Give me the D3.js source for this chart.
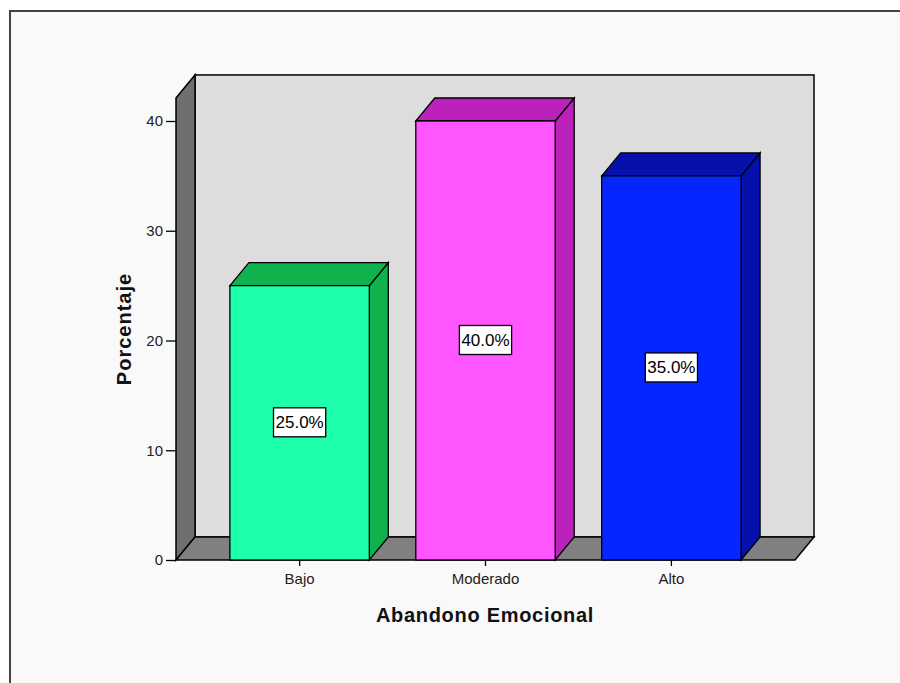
<!DOCTYPE html>
<html>
<head>
<meta charset="utf-8">
<script src="https://cdn.jsdelivr.net/npm/d3@7"></script>
<style>
  html, body { margin: 0; padding: 0; background: #ffffff; }
  svg { display: block; }
</style>
</head>
<body>
<svg id="chart" width="900" height="683"></svg>
<script>
// Porcentaje por nivel de abandono emocional
const categories = ["Bajo", "Moderado", "Alto"];
const values = [25.0, 40.0, 35.0];
const yTicks = [0, 10, 20, 30, 40];
const frontColors = ["#1effac", "#ff55ff", "#0626ff"];
const depthColors = ["#10b24e", "#bb22bb", "#0610aa"];

const FONT = "Arial, 'Liberation Sans', sans-serif";
const svg = d3.select("#chart");

// outer frame
svg.append("rect").attr("x", 10).attr("y", 11).attr("width", 900).attr("height", 700)
  .attr("fill", "#f9f9f9").attr("stroke", "#444").attr("stroke-width", 2);

// 3D depth offset
const dx = 19, dy = -23;

const y = d3.scaleLinear().domain([0, 40]).range([560, 121]);
const x = d3.scaleBand().domain(categories).range([176, 795])
  .paddingInner(0.25).paddingOuter(0.29);

const x0 = 176, x1 = 795, yBase = y(0), yTop = y(42.1);
const line = d3.line();

// back wall
svg.append("rect").attr("x", x0 + dx).attr("y", yTop + dy)
  .attr("width", x1 - x0).attr("height", yBase - yTop)
  .attr("fill", "#dddddd").attr("stroke", "#000").attr("stroke-width", 1.5);

// left wall
svg.append("path")
  .attr("d", line([[x0, yTop], [x0 + dx, yTop + dy], [x0 + dx, yBase + dy], [x0, yBase]]) + "Z")
  .attr("fill", "#6f6f6f").attr("stroke", "#000").attr("stroke-width", 1.5);

// floor
svg.append("path")
  .attr("d", line([[x0, yBase], [x0 + dx, yBase + dy], [x1 + dx, yBase + dy], [x1, yBase]]) + "Z")
  .attr("fill", "#808080").attr("stroke", "#000").attr("stroke-width", 1.5);

// bars
const bars = svg.append("g").selectAll("g").data(categories).join("g");
bars.each(function (c, i) {
  const g = d3.select(this);
  const bx0 = x(c), bx1 = x(c) + x.bandwidth(), by = y(values[i]);
  // side face
  g.append("path")
    .attr("d", line([[bx1, by], [bx1 + dx, by + dy], [bx1 + dx, yBase + dy], [bx1, yBase]]) + "Z")
    .attr("fill", depthColors[i]).attr("stroke", "#000").attr("stroke-width", 1.3);
  // top face
  g.append("path")
    .attr("d", line([[bx0, by], [bx0 + dx, by + dy], [bx1 + dx, by + dy], [bx1, by]]) + "Z")
    .attr("fill", depthColors[i]).attr("stroke", "#000").attr("stroke-width", 1.3);
  // front face
  g.append("rect").attr("x", bx0).attr("y", by)
    .attr("width", bx1 - bx0).attr("height", yBase - by)
    .attr("fill", frontColors[i]).attr("stroke", "#000").attr("stroke-width", 1.3);

  // value label
  const cx = (bx0 + bx1) / 2, cy = y(values[i] / 2) - 1;
  const t = g.append("text").attr("x", cx).attr("y", cy + 6)
    .attr("text-anchor", "middle")
    .attr("font-family", FONT)
    .attr("font-size", 17).attr("fill", "#000")
    .text(d3.format(".1f")(values[i]) + "%");
  const bb = t.node().getBBox();
  g.insert("rect", "text")
    .attr("x", bb.x - 2).attr("y", cy - 14)
    .attr("width", bb.width + 4).attr("height", 29)
    .attr("fill", "#fff").attr("stroke", "#000").attr("stroke-width", 1.3);
});

// y axis
const yAxis = svg.append("g").attr("transform", `translate(${x0},0)`)
  .call(d3.axisLeft(y).tickValues(yTicks).tickSize(10).tickPadding(3).tickFormat(d3.format("d")));
yAxis.select(".domain").remove();
yAxis.selectAll("line").attr("stroke", "#000").attr("stroke-width", 1.3);
yAxis.selectAll("text").attr("font-family", FONT)
  .attr("font-size", 15).attr("fill", "#222");

// x axis
const xAxis = svg.append("g").attr("transform", `translate(0,${yBase})`)
  .call(d3.axisBottom(x).tickSize(6).tickPadding(7));
xAxis.select(".domain").remove();
xAxis.selectAll("line").attr("stroke", "#000").attr("stroke-width", 1.3);
xAxis.selectAll("text").attr("font-family", FONT)
  .attr("font-size", 15).attr("fill", "#222");

// axis titles
svg.append("text").attr("x", 485).attr("y", 622).attr("text-anchor", "middle")
  .attr("font-family", FONT).attr("font-weight", "bold").attr("letter-spacing", 0.7)
  .attr("font-size", 20).attr("fill", "#111").text("Abandono Emocional");
svg.append("text").attr("transform", "translate(131,329) rotate(-90)").attr("text-anchor", "middle")
  .attr("font-family", FONT).attr("font-weight", "bold").attr("letter-spacing", 1)
  .attr("font-size", 20).attr("fill", "#111").text("Porcentaje");
</script>
</body>
</html>
